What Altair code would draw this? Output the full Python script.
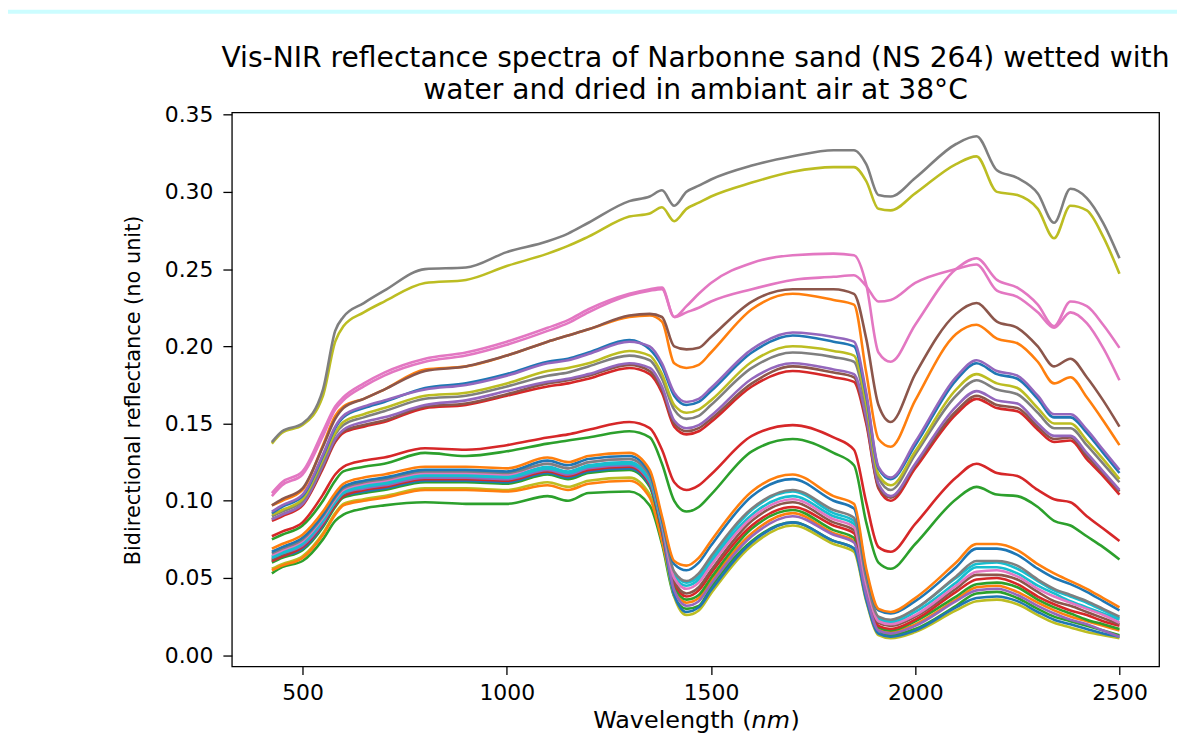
import altair as alt
import pandas as pd

# ---- wavelength grid (nm) ----
wavelength = [425, 450, 500, 550, 580, 600, 650, 700, 800, 900, 1000, 1100, 1150, 1200,
              1300, 1350, 1380, 1410, 1440, 1470, 1500, 1600, 1700, 1800, 1850, 1880,
              1910, 1940, 2000, 2100, 2150, 2200, 2250, 2300, 2340, 2380, 2420, 2460, 2500]

# ---- lower group ----
orange_l1 = [.069,.072,.078,.093,.105,.111,.115,.117,.122,.122,.121,.128,.125,.129,.131,.120,.090,.061,.058,.063,.074,.106,.117,.103,.098,.056,.030,.028,.037,.060,.072,.072,.068,.059,.053,.048,.043,.037,.031]
blue_l1 = [.067,.070,.076,.091,.103,.109,.113,.115,.120,.120,.119,.126,.123,.127,.129,.118,.088,.059,.055,.060,.071,.103,.114,.100,.095,.054,.029,.027,.035,.057,.069,.069,.065,.056,.050,.046,.041,.035,.029]
gray_l = [.066,.069,.075,.090,.102,.108,.112,.114,.119,.119,.118,.124,.121,.125,.127,.116,.087,.054,.048,.053,.064,.095,.107,.094,.089,.050,.025,.023,.030,.051,.061,.061,.058,.049,.043,.039,.035,.030,.025]
pink_l = [.065,.068,.074,.089,.101,.107,.111,.113,.118,.118,.117,.124,.121,.125,.127,.116,.086,.050,.043,.047,.058,.089,.101,.088,.083,.046,.022,.020,.026,.045,.054,.055,.051,.043,.038,.034,.030,.026,.021]
cyan_l1 = [.064,.067,.073,.088,.100,.106,.110,.112,.117,.117,.116,.122,.119,.123,.125,.114,.085,.053,.047,.051,.062,.094,.106,.092,.087,.049,.024,.022,.030,.050,.059,.060,.056,.048,.042,.038,.034,.029,.024]
cyan_l2 = [.063,.066,.072,.087,.099,.105,.109,.111,.116,.116,.115,.121,.118,.122,.124,.113,.084,.051,.045,.049,.060,.091,.103,.090,.085,.047,.023,.021,.028,.047,.057,.057,.053,.045,.040,.035,.031,.027,.023]
purple_l = [.063,.066,.071,.086,.099,.105,.108,.110,.115,.115,.114,.120,.117,.121,.123,.112,.083,.042,.032,.035,.046,.077,.090,.078,.073,.039,.016,.014,.019,.035,.042,.043,.039,.032,.027,.023,.020,.016,.012]
brown_l = [.062,.065,.071,.086,.098,.104,.108,.110,.115,.115,.114,.120,.117,.121,.123,.112,.082,.048,.040,.044,.055,.087,.099,.086,.081,.044,.021,.019,.025,.043,.052,.052,.049,.041,.035,.032,.028,.024,.020]
red_l = [.061,.064,.070,.085,.097,.103,.107,.109,.114,.114,.113,.119,.116,.120,.122,.111,.081,.047,.038,.042,.053,.084,.096,.084,.079,.043,.019,.017,.023,.041,.049,.050,.046,.038,.033,.029,.026,.022,.019]
blue_l2 = [.061,.064,.069,.084,.097,.103,.106,.108,.113,.113,.112,.118,.115,.119,.121,.110,.080,.039,.028,.031,.042,.073,.086,.074,.069,.036,.014,.012,.016,.031,.037,.038,.035,.028,.023,.020,.017,.014,.012]
green_l = [.060,.063,.068,.083,.096,.102,.105,.107,.112,.112,.111,.117,.114,.118,.120,.109,.080,.045,.036,.039,.050,.082,.094,.081,.076,.041,.018,.016,.022,.038,.046,.047,.044,.036,.031,.027,.023,.020,.017]
orange_l2 = [.055,.058,.063,.078,.091,.097,.100,.102,.107,.107,.106,.110,.107,.111,.113,.102,.074,.044,.034,.037,.048,.079,.092,.079,.074,.040,.017,.015,.020,.036,.044,.045,.041,.034,.029,.025,.022,.019,.016]
olive_l = [.056,.059,.064,.079,.092,.098,.101,.103,.108,.108,.107,.112,.109,.113,.115,.104,.075,.038,.026,.029,.040,.071,.084,.072,.067,.035,.013,.011,.015,.029,.035,.036,.033,.026,.021,.018,.015,.013,.011]
green_l2 = [.053,.057,.061,.075,.087,.091,.095,.097,.099,.098,.098,.103,.100,.105,.106,.097,.072,.038,.030,.032,.044,.074,.086,.074,.069,.037,.016,.013,.017,.032,.040,.041,.037,.030,.025,.022,.019,.016,.013]

# ---- mid-lower pair ----
red_ml = [.077,.080,.086,.104,.117,.122,.126,.128,.134,.133,.136,.141,.143,.146,.151,.147,.133,.112,.107,.110,.117,.142,.149,.141,.133,.099,.070,.067,.085,.115,.124,.118,.116,.107,.101,.099,.090,.082,.074]
green_ml = [.075,.078,.084,.100,.113,.119,.122,.124,.131,.129,.132,.137,.139,.141,.145,.141,.124,.100,.093,.096,.104,.132,.140,.131,.123,.086,.060,.056,.072,.101,.109,.104,.103,.096,.087,.084,.077,.070,.062]

# ---- middle group ----
purple_m1 = [.093,.097,.104,.130,.148,.155,.161,.165,.172,.175,.181,.189,.191,.195,.203,.200,.189,.170,.164,.166,.173,.198,.209,.206,.203,.170,.122,.115,.138,.180,.191,.184,.181,.168,.156,.156,.146,.133,.120]
blue_m = [.092,.096,.103,.129,.147,.154,.160,.164,.173,.176,.182,.190,.192,.196,.204,.198,.187,.168,.162,.164,.171,.196,.207,.203,.200,.168,.121,.114,.136,.178,.189,.182,.179,.166,.154,.154,.144,.131,.118]
olive_m = [.091,.094,.101,.127,.144,.151,.156,.160,.168,.170,.176,.184,.186,.189,.197,.194,.182,.162,.157,.159,.165,.190,.200,.197,.194,.163,.117,.110,.132,.172,.182,.176,.173,.160,.150,.150,.139,.127,.114]
gray_m = [.090,.093,.100,.125,.143,.149,.154,.158,.166,.168,.174,.181,.183,.187,.194,.191,.179,.159,.153,.155,.162,.186,.196,.193,.190,.160,.115,.107,.130,.168,.178,.172,.169,.157,.147,.147,.136,.124,.112]
purple_m2 = [.088,.091,.098,.123,.140,.146,.151,.154,.162,.165,.171,.177,.179,.182,.189,.186,.174,.152,.147,.149,.155,.179,.189,.185,.182,.154,.111,.103,.124,.161,.171,.165,.163,.150,.142,.142,.131,.119,.107]
brown_m = [.088,.091,.098,.122,.139,.145,.149,.152,.161,.163,.169,.176,.178,.181,.188,.184,.172,.150,.145,.147,.153,.176,.187,.183,.180,.152,.109,.102,.123,.158,.168,.162,.160,.148,.140,.141,.129,.118,.106]
red_m = [.087,.090,.097,.121,.138,.144,.148,.151,.160,.162,.168,.174,.176,.179,.186,.182,.170,.148,.143,.145,.151,.174,.184,.180,.177,.150,.108,.100,.121,.156,.166,.160,.158,.146,.138,.139,.127,.116,.104]

# ---- upper lines ----
orange_up = [.097,.100,.107,.136,.155,.161,.166,.172,.185,.187,.194,.203,.207,.211,.219,.220,.216,.189,.186,.188,.196,.224,.234,.230,.227,.183,.140,.135,.165,.208,.214,.205,.202,.190,.176,.180,.167,.152,.136]
brown_up = [.097,.101,.108,.135,.153,.160,.166,.172,.184,.187,.194,.203,.207,.211,.220,.221,.219,.200,.198,.199,.206,.229,.237,.237,.234,.205,.162,.151,.182,.221,.228,.216,.212,.200,.187,.192,.180,.165,.148]
pink_b = [.103,.110,.117,.142,.159,.165,.174,.181,.190,.194,.201,.210,.215,.222,.233,.236,.237,.219,.222,.225,.229,.237,.243,.245,.246,.239,.229,.230,.241,.250,.253,.236,.232,.222,.212,.222,.215,.199,.178]
pink_a = [.105,.112,.119,.145,.161,.167,.176,.183,.192,.196,.203,.212,.217,.224,.234,.237,.238,.219,.226,.234,.241,.254,.259,.260,.259,.240,.196,.190,.214,.250,.257,.243,.238,.227,.213,.229,.226,.214,.199]
olive_top = [.137,.144,.149,.168,.203,.213,.222,.229,.241,.243,.252,.260,.265,.271,.284,.286,.290,.281,.289,.293,.297,.306,.313,.316,.316,.307,.289,.288,.299,.318,.323,.300,.298,.289,.270,.291,.288,.271,.247]
gray_top = [.138,.145,.150,.172,.210,.219,.228,.236,.250,.251,.261,.268,.273,.280,.294,.297,.301,.291,.300,.304,.308,.317,.323,.327,.327,.318,.298,.297,.309,.331,.336,.314,.309,.299,.280,.302,.296,.280,.257]

# ---- texts ----
title_lines = ["Vis-NIR reflectance spectra of Narbonne sand (NS 264) wetted with",
               "water and dried in ambiant air at 38°C"]
x_title_parts = ["Wavelength (", "nm", ")"]
y_title = "Bidirectional reflectance (no unit)"
x_ticks = [500, 1000, 1500, 2000, 2500]
y_ticks = [0, 0.05, 0.10, 0.15, 0.20, 0.25, 0.30, 0.35]

BLUE, ORANGE, GREEN, RED, PURPLE = "#1f77b4", "#ff7f0e", "#2ca02c", "#d62728", "#9467bd"
BROWN, PINK, GRAY, OLIVE, CYAN = "#8c564b", "#e377c2", "#7f7f7f", "#bcbd22", "#17becf"

series = [
    ("green_l2", green_l2, GREEN), ("olive_l", olive_l, OLIVE), ("orange_l2", orange_l2, ORANGE),
    ("green_l", green_l, GREEN), ("blue_l2", blue_l2, BLUE), ("red_l", red_l, RED),
    ("brown_l", brown_l, BROWN), ("purple_l", purple_l, PURPLE), ("cyan_l2", cyan_l2, CYAN),
    ("cyan_l1", cyan_l1, CYAN), ("pink_l", pink_l, PINK), ("gray_l", gray_l, GRAY),
    ("blue_l1", blue_l1, BLUE), ("orange_l1", orange_l1, ORANGE),
    ("green_ml", green_ml, GREEN), ("red_ml", red_ml, RED),
    ("red_m", red_m, RED), ("brown_m", brown_m, BROWN), ("purple_m2", purple_m2, PURPLE),
    ("gray_m", gray_m, GRAY), ("olive_m", olive_m, OLIVE), ("blue_m", blue_m, BLUE),
    ("purple_m1", purple_m1, PURPLE),
    ("orange_up", orange_up, ORANGE), ("brown_up", brown_up, BROWN),
    ("pink_b", pink_b, PINK), ("pink_a", pink_a, PINK),
    ("olive_top", olive_top, OLIVE), ("gray_top", gray_top, GRAY),
]

rows = []
for order, (name, vals, col) in enumerate(series):
    for w, v in zip(wavelength, vals):
        rows.append({"series": name, "order": order, "wavelength": w, "reflectance": v})
df = pd.DataFrame(rows)
names = [s[0] for s in series]
colors = [s[2] for s in series]

FONT = "DejaVu Sans"
W, H = 932, 557

lines = alt.Chart(df).mark_line(strokeWidth=2.6, interpolate="monotone").encode(
    x=alt.X("wavelength:Q",
            scale=alt.Scale(domain=[327, 2597], nice=False, zero=False),
            axis=alt.Axis(values=x_ticks, format="d", title="",
                          labelFontSize=22, tickSize=8, labelPadding=8)),
    y=alt.Y("reflectance:Q",
            scale=alt.Scale(domain=[-0.0073, 0.3515], nice=False, zero=False),
            axis=alt.Axis(values=y_ticks, format=".2f",
                          title=y_title, labelFontSize=22,
                          titleFontSize=21, tickSize=9, labelPadding=10, titleX=-93,
                          titleY=279, titleAngle=270, titleAlign="center",
                          titleBaseline="alphabetic")),
    color=alt.Color("series:N", scale=alt.Scale(domain=names, range=colors), legend=None),
    detail="order:O",
)

one = pd.DataFrame({"a": [0]})

bar = alt.Chart(one).mark_rect(color="#ccfdff").encode(
    x=alt.value(-225), x2=alt.value(950), y=alt.value(-103), y2=alt.value(-99)
)

TITLE_SIZE = 28.3
title1 = alt.Chart(one).mark_text(text=title_lines[0], font=FONT, fontSize=TITLE_SIZE,
                                  align="center", baseline="alphabetic", color="black").encode(
    x=alt.value(W / 2), y=alt.value(-46))
title2 = alt.Chart(one).mark_text(text=title_lines[1], font=FONT, fontSize=TITLE_SIZE,
                                  align="center", baseline="alphabetic", color="black").encode(
    x=alt.value(W / 2), y=alt.value(-13))

XS = 24
xt1 = alt.Chart(one).mark_text(text=x_title_parts[0], font=FONT, fontSize=XS,
                               align="right", baseline="alphabetic", color="black").encode(
    x=alt.value(522.4), y=alt.value(619))
xt2 = alt.Chart(one).mark_text(text=x_title_parts[1], font=FONT, fontSize=XS, fontStyle="italic",
                               align="left", baseline="alphabetic", color="black").encode(
    x=alt.value(522.4), y=alt.value(619))
xt3 = alt.Chart(one).mark_text(text=x_title_parts[2], font=FONT, fontSize=XS,
                               align="left", baseline="alphabetic", color="black").encode(
    x=alt.value(561.5), y=alt.value(619))

chart = alt.layer(bar, lines, title1, title2, xt1, xt2, xt3).properties(
    width=W,
    height=H,
    autosize=alt.AutoSizeParams(type="none"),
    padding={"left": 225, "top": 103, "right": 18, "bottom": 68},
).configure_view(
    stroke="black", strokeWidth=1.3
).configure_axis(
    domain=False, grid=False, tickColor="black", tickWidth=1.3, labelColor="black",
    titleColor="black", labelFont=FONT, titleFont=FONT, titleFontWeight="normal"
)

chart.save("out.html", embed_options={"renderer": "svg", "actions": False})
